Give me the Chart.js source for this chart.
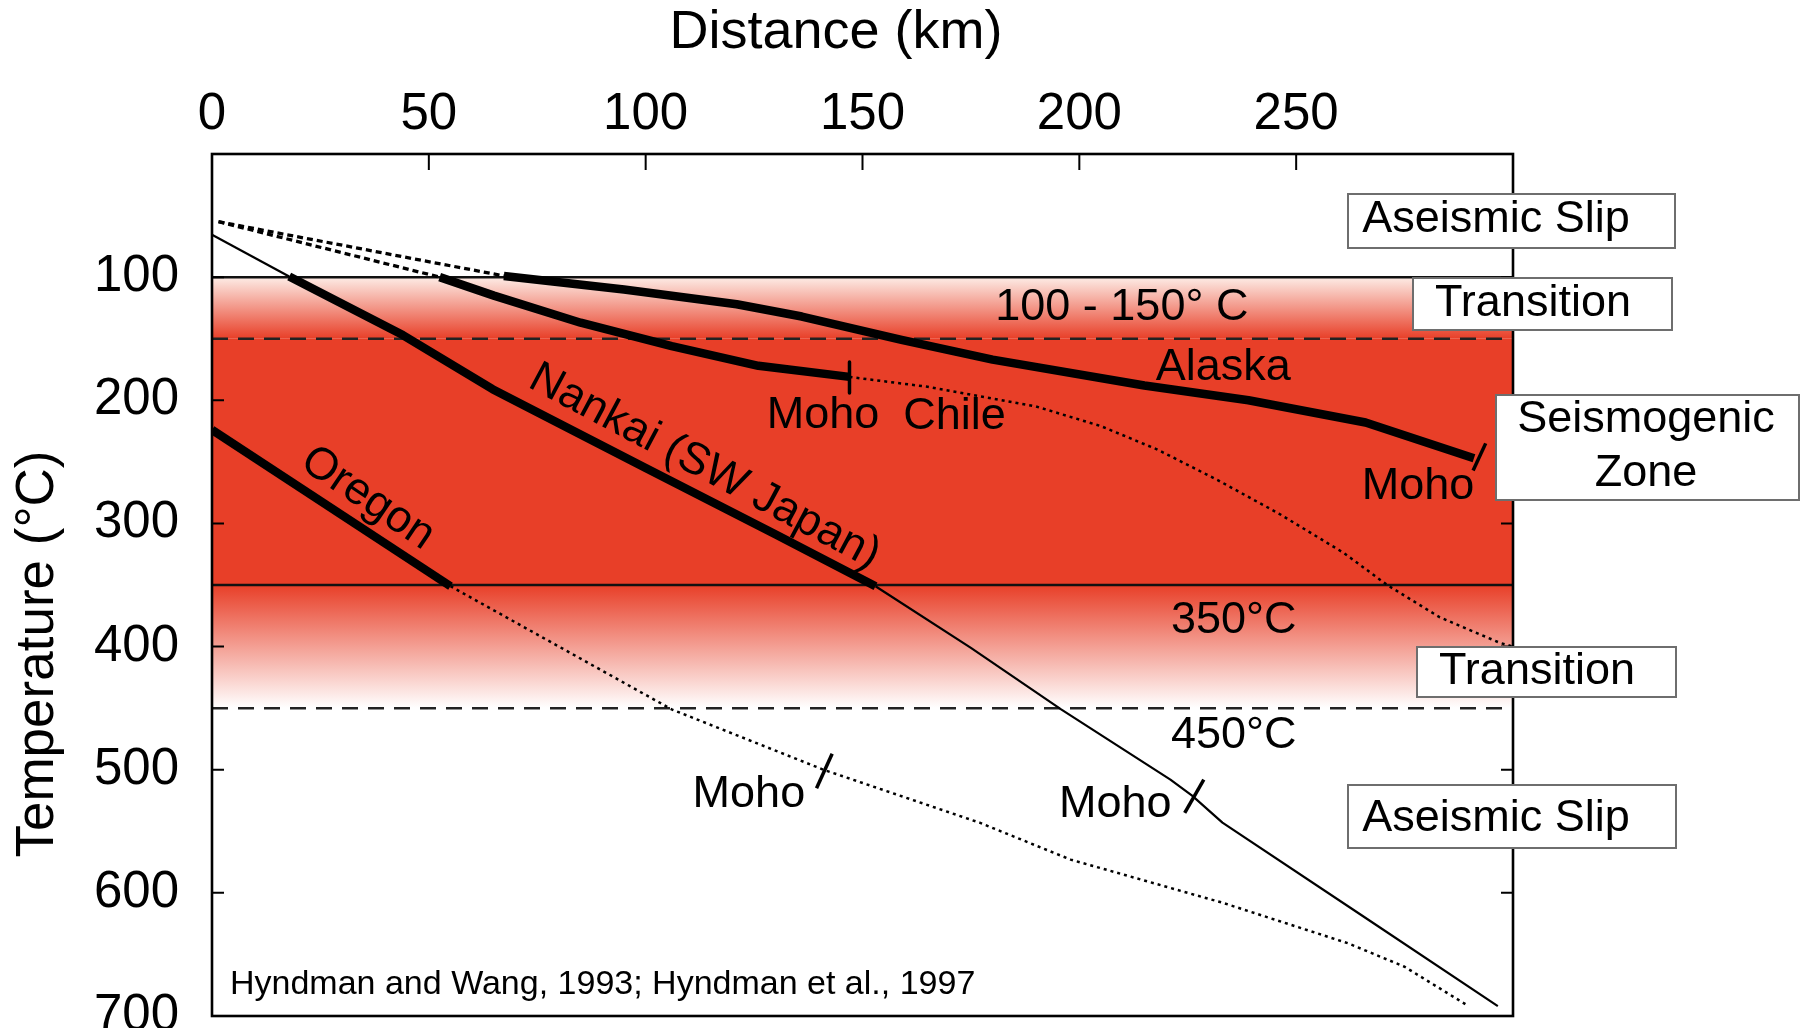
<!DOCTYPE html>
<html><head><meta charset="utf-8">
<script src="https://cdn.jsdelivr.net/npm/chart.js@4"></script>
<style>html,body{margin:0;padding:0;background:#fff;}canvas{display:block;}</style>
</head><body>
<canvas id="c" width="1802" height="1028"></canvas>
<script>
const FONT = "'Liberation Sans', Arial, Helvetica, sans-serif";

// ---- axes ----
const distanceRange = [0, 300];
const temperatureRange = [0, 700];
const distanceTicks = [0, 50, 100, 150, 200, 250];
const temperatureTicks = [100, 200, 300, 400, 500, 600, 700];

// ---- zone boundaries (°C) ----
const transitionTopC = [100, 150];
const seismogenicC = [150, 350];
const transitionBottomC = [350, 450];

// ---- Nankai (SW Japan) ----
const nankaiShallowKm = [0, 17.8];
const nankaiShallowC = [65.5, 99.5];
const nankaiSeisKm = [17.8, 44, 64.7, 100, 130, 153];
const nankaiSeisC = [99.5, 147, 191, 255, 309, 351];
const nankaiDeepKm = [153, 175, 195.8, 221, 226, 233, 265, 296.5];
const nankaiDeepC = [351, 401, 451, 508, 521, 543, 618, 692];

// ---- Oregon ----
const oregonSeisKm = [0, 55];
const oregonSeisC = [224, 351];
const oregonDeepKm = [55, 80, 106, 141, 177, 198, 233, 262, 275, 289.3];
const oregonDeepC = [351, 400, 451, 500, 543, 573, 608, 641, 660, 691];

// ---- Chile ----
const chileShallowKm = [1.5, 52.5];
const chileShallowC = [55, 100];
const chileSeisKm = [52.5, 65, 85, 106, 126, 147];
const chileSeisC = [100, 115, 137, 156, 172, 181];
const chileDeepKm = [147, 165, 190, 205, 218, 232, 246, 261, 271, 283, 297, 300];
const chileDeepC = [181, 189, 205, 221, 240, 265, 292, 324, 350, 376, 397, 400];

// ---- Alaska ----
const alaskaShallowKm = [1.5, 67.3];
const alaskaShallowC = [55, 99];
const alaskaSeisKm = [67.3, 95, 121, 136, 159, 180, 215, 239, 266, 291];
const alaskaSeisC = [99, 110, 122, 132, 151, 167, 188, 200, 218, 247];

// ---- Moho marks ----
const mohoChileKm = [147, 147];      const mohoChileC = [169, 194];
const mohoAlaskaKm = [293.7, 290.8]; const mohoAlaskaC = [235, 257];
const mohoOregonKm = [143, 139.4];   const mohoOregonC = [487, 515];
const mohoNankaiKm = [228.7, 224.3]; const mohoNankaiC = [508, 535];

const RED = 'rgb(232,63,40)';
const pts = (xs, ys) => xs.map((x, i) => ({ x: x, y: ys[i] }));
const flat = (c) => pts(distanceRange, [c, c]);

function grad(ctx, c0, c1, col0, col1) {
  const ch = ctx.chart;
  const ys = ch.scales && ch.scales.y;
  if (!ys || !ch.chartArea) return col1;
  const g = ch.ctx.createLinearGradient(0, ys.getPixelForValue(c0), 0, ys.getPixelForValue(c1));
  g.addColorStop(0, col0);
  g.addColorStop(1, col1);
  return g;
}

const thick = { borderColor: '#000', borderWidth: 8.5, order: 1 };
const thin = { borderColor: '#000', borderWidth: 2.2, order: 1 };
const dotted = { borderColor: '#000', borderWidth: 2.5, borderDash: [3, 4], order: 1 };
const dashedShallow = { borderColor: '#000', borderWidth: 3.3, borderDash: [6, 4], order: 1 };
const moho = { borderColor: '#000', borderWidth: 3.5, order: 0 };

const datasets = [
  // zones
  { label: '100°C', data: flat(transitionTopC[0]), borderColor: '#111', borderWidth: 2.5, order: 5,
    fill: { value: transitionTopC[1] },
    backgroundColor: (ctx) => grad(ctx, transitionTopC[0], transitionTopC[1], 'rgb(253,236,230)', RED) },
  { label: '150°C', data: flat(seismogenicC[0]), borderColor: '#222', borderWidth: 2.5, borderDash: [16, 10], order: 5,
    fill: { value: seismogenicC[1] }, backgroundColor: RED },
  { label: '350°C', data: flat(transitionBottomC[0]), borderColor: '#111', borderWidth: 2.5, order: 5,
    fill: { value: transitionBottomC[1] },
    backgroundColor: (ctx) => grad(ctx, transitionBottomC[0], transitionBottomC[1], RED, 'rgb(255,255,255)') },
  { label: '450°C', data: flat(transitionBottomC[1]), borderColor: '#222', borderWidth: 2.5, borderDash: [16, 10], order: 5, fill: false },
  // Nankai
  Object.assign({ label: 'Nankai shallow', data: pts(nankaiShallowKm, nankaiShallowC) }, thin),
  Object.assign({ label: 'Nankai (SW Japan)', data: pts(nankaiSeisKm, nankaiSeisC) }, thick),
  Object.assign({ label: 'Nankai deep', data: pts(nankaiDeepKm, nankaiDeepC) }, thin),
  // Oregon
  Object.assign({ label: 'Oregon', data: pts(oregonSeisKm, oregonSeisC) }, thick),
  Object.assign({ label: 'Oregon deep', data: pts(oregonDeepKm, oregonDeepC) }, dotted),
  // Chile
  Object.assign({ label: 'Chile shallow', data: pts(chileShallowKm, chileShallowC) }, dashedShallow),
  Object.assign({ label: 'Chile', data: pts(chileSeisKm, chileSeisC) }, thick),
  Object.assign({ label: 'Chile deep', data: pts(chileDeepKm, chileDeepC) }, dotted),
  // Alaska
  Object.assign({ label: 'Alaska shallow', data: pts(alaskaShallowKm, alaskaShallowC) }, dashedShallow),
  Object.assign({ label: 'Alaska', data: pts(alaskaSeisKm, alaskaSeisC) }, thick),
  // Moho marks
  Object.assign({ label: 'Moho Chile', data: pts(mohoChileKm, mohoChileC) }, moho),
  Object.assign({ label: 'Moho Alaska', data: pts(mohoAlaskaKm, mohoAlaskaC) }, moho),
  Object.assign({ label: 'Moho Oregon', data: pts(mohoOregonKm, mohoOregonC) }, moho),
  Object.assign({ label: 'Moho Nankai', data: pts(mohoNankaiKm, mohoNankaiC) }, moho),
];

// text annotations placed in data coordinates (km, °C)
const annotations = [
  { text: '100 - 150° C', x: 209.8, y: 125.1 },
  { text: 'Alaska', x: 233.2, y: 173.5 },
  { text: 'Moho', x: 140.9, y: 212.8 },
  { text: 'Chile', x: 171.2, y: 213.6 },
  { text: 'Moho', x: 278.1, y: 270.4 },
  { text: '350°C', x: 235.6, y: 379 },
  { text: '450°C', x: 235.6, y: 472.2 },
  { text: 'Moho', x: 123.8, y: 520.5 },
  { text: 'Moho', x: 208.3, y: 528.2 },
  { text: 'Nankai (SW Japan)', x: 113.6, y: 254, rot: 28 },
  { text: 'Oregon', x: 35.9, y: 279.6, rot: 34 },
  { text: 'Hyndman and Wang, 1993; Hyndman et al., 1997', x: 4.15, y: 674.8, align: 'left', size: 34 },
];

// side legend boxes (page pixels)
const boxes = [
  { lines: ['Aseismic Slip'], x0: 1348, y0: 194, x1: 1675, y1: 248, cx: 1496, cy: [220] },
  { lines: ['Transition'], x0: 1413, y0: 278, x1: 1672, y1: 330, cx: 1533, cy: [304] },
  { lines: ['Seismogenic', 'Zone'], x0: 1496, y0: 395, x1: 1799, y1: 500, cx: 1646, cy: [420, 473.5] },
  { lines: ['Transition'], x0: 1417, y0: 647, x1: 1676, y1: 697, cx: 1537, cy: [672] },
  { lines: ['Aseismic Slip'], x0: 1348, y0: 785, x1: 1676, y1: 848, cx: 1496, cy: [819] },
];

const decor = {
  id: 'decor',
  afterDraw(chart) {
    const { ctx, chartArea: a, scales } = chart;
    const x = scales.x, y = scales.y;
    ctx.save();
    ctx.strokeStyle = '#000';
    // inward ticks
    ctx.lineWidth = 2;
    ctx.beginPath();
    distanceTicks.forEach(v => {
      if (v <= distanceRange[0] || v >= distanceRange[1]) return;
      const px = x.getPixelForValue(v);
      ctx.moveTo(px, a.top); ctx.lineTo(px, a.top + 16);
    });
    temperatureTicks.forEach(v => {
      if (v <= temperatureRange[0] || v >= temperatureRange[1]) return;
      const py = y.getPixelForValue(v);
      ctx.moveTo(a.left, py); ctx.lineTo(a.left + 12, py);
      ctx.moveTo(a.right - 12, py); ctx.lineTo(a.right, py);
    });
    ctx.stroke();
    // frame
    ctx.lineWidth = 2.6;
    ctx.strokeRect(a.left, a.top, a.right - a.left, a.bottom - a.top);

    // annotations
    ctx.fillStyle = '#000';
    annotations.forEach(t => {
      ctx.save();
      ctx.font = (t.size || 45) + 'px ' + FONT;
      ctx.textAlign = t.align || 'center';
      ctx.textBaseline = 'middle';
      ctx.translate(x.getPixelForValue(t.x), y.getPixelForValue(t.y));
      if (t.rot) ctx.rotate(t.rot * Math.PI / 180);
      ctx.fillText(t.text, 0, 0);
      ctx.restore();
    });

    // boxes
    boxes.forEach(b => {
      ctx.fillStyle = '#fff';
      ctx.fillRect(b.x0, b.y0, b.x1 - b.x0, b.y1 - b.y0);
      ctx.strokeStyle = '#6e6e6e';
      ctx.lineWidth = 2;
      ctx.strokeRect(b.x0, b.y0, b.x1 - b.x0, b.y1 - b.y0);
      ctx.fillStyle = '#000';
      ctx.font = '45px ' + FONT;
      ctx.textAlign = 'center';
      ctx.textBaseline = 'middle';
      b.lines.forEach((ln, i) => ctx.fillText(ln, b.cx, b.cy[i]));
    });

    // axis titles
    ctx.fillStyle = '#000';
    ctx.font = '54px ' + FONT;
    ctx.textAlign = 'center';
    ctx.textBaseline = 'middle';
    ctx.fillText('Distance (km)', 836, 33);
    ctx.save();
    ctx.translate(38, 654);
    ctx.rotate(-Math.PI / 2);
    ctx.font = '53px ' + FONT;
    ctx.fillText('Temperature (°C)', 0, 0);
    ctx.restore();
    ctx.restore();
  }
};

new Chart(document.getElementById('c'), {
  type: 'line',
  data: { datasets: datasets },
  options: {
    responsive: false,
    animation: false,
    events: [],
    devicePixelRatio: 1,
    layout: { padding: { left: 0, top: 0, right: 289, bottom: 12 } },
    elements: { point: { radius: 0, hoverRadius: 0 }, line: { tension: 0, borderCapStyle: 'butt', borderJoinStyle: 'round' } },
    plugins: {
      legend: { display: false },
      tooltip: { enabled: false },
      filler: { drawTime: 'beforeDatasetsDraw' }
    },
    scales: {
      x: {
        type: 'linear', position: 'top',
        min: distanceRange[0], max: distanceRange[1],
        grid: { display: false }, border: { display: false },
        afterBuildTicks: (s) => { s.ticks = distanceTicks.map(v => ({ value: v })); },
        afterFit: (s) => { s.height = 154; s.paddingLeft = 0; s.paddingRight = 0; },
        ticks: { font: { family: FONT, size: 51 }, color: '#000', padding: 0, maxRotation: 0, autoSkip: false }
      },
      y: {
        type: 'linear', position: 'left', reverse: true,
        min: temperatureRange[0], max: temperatureRange[1],
        grid: { display: false }, border: { display: false },
        afterBuildTicks: (s) => { s.ticks = temperatureTicks.map(v => ({ value: v })); },
        afterFit: (s) => { s.width = 212; s.paddingTop = 0; s.paddingBottom = 0; },
        ticks: { font: { family: FONT, size: 51 }, color: '#000', padding: 25, autoSkip: false }
      }
    }
  },
  plugins: [decor]
});
</script>
</body></html>
